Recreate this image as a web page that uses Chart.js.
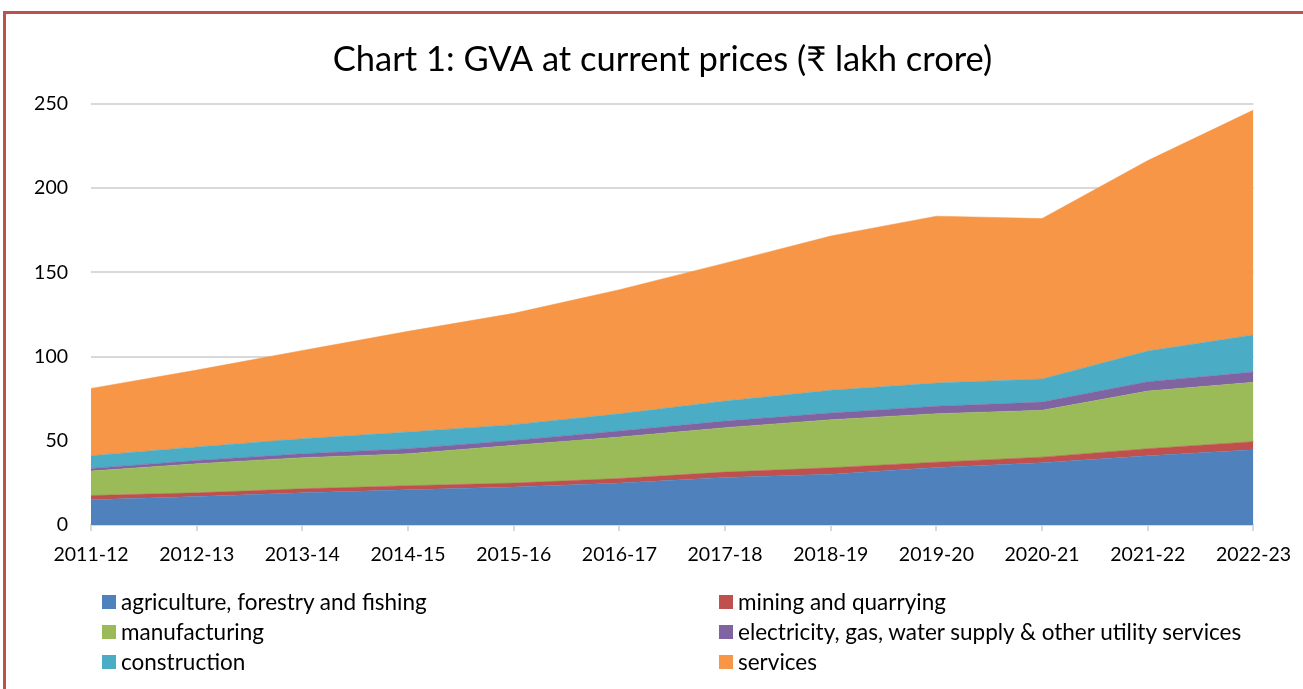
<!DOCTYPE html>
<html>
<head>
<meta charset="utf-8">
<script src="https://cdn.jsdelivr.net/npm/chart.js@4.4.1/dist/chart.umd.min.js"></script>
<style>
  html, body { margin: 0; padding: 0; background: #fff; }
  #wrap { position: relative; width: 1303px; height: 689px; overflow: hidden; background: #fff; }
  #frame { position: absolute; left: 3px; top: 11px; width: 1400px; height: 800px;
           border-top: 3px solid #c0504d; border-left: 3px solid #c0504d; box-sizing: border-box; }
  #cv { position: absolute; left: 0; top: 0; }
  .leg { position: absolute; font-family: Lato, "Open Sans", sans-serif; font-size: 22.5px; color: #000;
         display: flex; align-items: center; white-space: nowrap; line-height: 1; }
  .leg span.box { display: inline-block; width: 14px; height: 14px; margin-right: 5px; }
</style>
</head>
<body>
<div id="wrap">
  <div id="frame"></div>
  <canvas id="cv" width="1303" height="689"></canvas>
</div>
<script>
const categories = ["2011-12","2012-13","2013-14","2014-15","2015-16","2016-17","2017-18","2018-19","2019-20","2020-21","2021-22","2022-23"];
const seriesNames = ["agriculture, forestry and fishing","mining and quarrying","manufacturing","electricity, gas, water supply & other utility services","construction","services"];
const seriesColors = ["#4F81BD","#C0504D","#9BBB59","#8064A2","#4BACC6","#F79646"];
const agriculture   = [15.0, 16.9, 19.1, 20.9, 22.5, 24.9, 28.2, 30.2, 34.2, 37.0, 41.1, 44.7];
const mining        = [2.5, 2.2, 2.4, 2.4, 2.4, 2.7, 3.2, 3.8, 3.1, 3.3, 4.2, 4.8];
const manufacturing = [14.5, 17.3, 18.5, 19.0, 22.4, 24.6, 26.4, 28.5, 28.8, 27.8, 34.2, 35.2];
const electricity   = [1.6, 1.9, 2.3, 3.0, 2.9, 3.6, 3.9, 4.0, 4.4, 4.9, 5.6, 6.1];
const construction  = [7.5, 8.0, 8.9, 9.9, 9.4, 10.2, 11.9, 13.5, 13.8, 13.7, 18.2, 22.0];
const services      = [40.0, 45.7, 52.4, 59.8, 66.1, 73.7, 81.9, 91.6, 99.1, 95.3, 113.1, 133.6];
const seriesValues = [agriculture, mining, manufacturing, electricity, construction, services];
const yTicks = [0, 50, 100, 150, 200, 250];
const titleText = "Chart 1: GVA at current prices (₹ lakh crore)";

const FONT = 'Lato, "Open Sans", sans-serif';

const datasets = seriesValues.map((vals, i) => ({
  label: seriesNames[i],
  data: vals,
  backgroundColor: seriesColors[i],
  borderColor: seriesColors[i],
  borderWidth: 0.5,
  pointRadius: 0,
  pointHoverRadius: 0,
  tension: 0,
  fill: i === 0 ? 'origin' : '-1'
}));

// Title drawn as canvas text, centred on the full frame like the reference
const centredTitle = {
  id: 'centredTitle',
  afterDraw(chart) {
    const ctx = chart.ctx;
    ctx.save();
    ctx.font = '34.5px ' + FONT;
    ctx.fillStyle = '#000';
    ctx.textAlign = 'center';
    ctx.textBaseline = 'middle';
    ctx.fillText(titleText, 662.5, 60);
    ctx.restore();
  }
};

new Chart(document.getElementById('cv'), {
  type: 'line',
  data: { labels: categories, datasets },
  plugins: [centredTitle],
  options: {
    responsive: false,
    animation: false,
    events: [],
    layout: { padding: { left: 0, right: 47, top: 104, bottom: 122 } },
    plugins: {
      legend: { display: false },
      tooltip: { enabled: false },
      title: { display: false }
    },
    scales: {
      x: {
        offset: false,
        grid: { drawOnChartArea: false, drawTicks: true, tickLength: 6, color: '#d9d9d9', lineWidth: 2 },
        border: { display: true, color: '#d9d9d9', width: 2 },
        ticks: { color: '#000', font: { family: FONT, size: 19.5 }, padding: 12, maxRotation: 0, autoSkip: false },
        afterFit: (s) => { s.height = 42; }
      },
      y: {
        stacked: true,
        min: 0, max: 250,
        afterBuildTicks: (s) => { s.ticks = yTicks.map(v => ({ value: v })); },
        grid: { drawTicks: false, color: (c) => c.tick && c.tick.value === 0 ? 'rgba(0,0,0,0)' : '#d9d9d9', lineWidth: 2 },
        border: { display: false },
        ticks: { color: '#000', font: { family: FONT, size: 19.5 }, padding: 23 },
        afterFit: (s) => { s.width = 91; }
      }
    }
  }
});

// HTML legend built from the series arrays (two columns, three rows)
const wrap = document.getElementById('wrap');
const colX = [102, 719];
const rowY = [602, 632, 662];
seriesNames.forEach((name, i) => {
  const d = document.createElement('div');
  d.className = 'leg';
  d.style.left = colX[i % 2] + 'px';
  d.style.top = (rowY[Math.floor(i / 2)] - 12) + 'px';
  d.style.height = '24px';
  const b = document.createElement('span');
  b.className = 'box';
  b.style.background = seriesColors[i];
  d.appendChild(b);
  d.appendChild(document.createTextNode(name));
  wrap.appendChild(d);
});
</script>
</body>
</html>
